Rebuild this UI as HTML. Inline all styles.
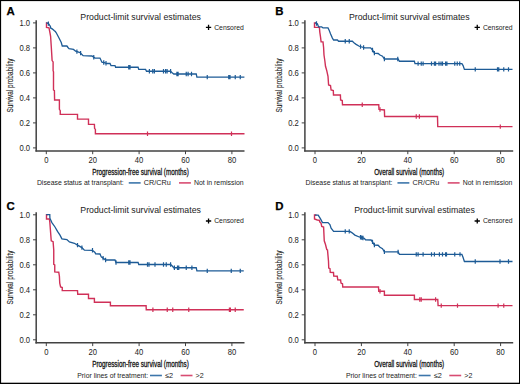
<!DOCTYPE html><html><head><meta charset="utf-8"><style>html,body{margin:0;padding:0;background:#fff;}svg{display:block;}</style></head><body>
<svg width="520" height="384" viewBox="0 0 520 384" font-family='"Liberation Sans", sans-serif'>
<rect x="0" y="0" width="520" height="384" fill="#fff"/>
<g transform="translate(0,0)">
<text x="6.5" y="14.5" font-size="11.4" font-weight="bold" fill="#000" stroke="#000" stroke-width="0.25">A</text>
<text x="140.6" y="20.05" font-size="8.75" text-anchor="middle" fill="#222">Product-limit survival estimates</text>
<g transform="translate(0,0)"><path d="M205.9 27.4H211.2M208.55 24.8V30" stroke="#000" stroke-width="1.3"/>
<text x="214.2" y="29.7" font-size="7.4" textLength="29.6" lengthAdjust="spacingAndGlyphs" fill="#222">Censored</text></g>
<path d="M36.2 20.3V151.6" stroke="#424242" stroke-width="1.5" fill="none"/>
<path d="M33 147.90H36.2M33 122.90H36.2M33 97.90H36.2M33 72.90H36.2M33 47.90H36.2M33 22.90H36.2" stroke="#424242" stroke-width="1" fill="none"/>
<text x="30.1" y="150.80" font-size="8.3" text-anchor="end" textLength="10.61" lengthAdjust="spacingAndGlyphs" fill="#222">0.0</text>
<text x="30.1" y="125.80" font-size="8.3" text-anchor="end" textLength="10.61" lengthAdjust="spacingAndGlyphs" fill="#222">0.2</text>
<text x="30.1" y="100.80" font-size="8.3" text-anchor="end" textLength="10.61" lengthAdjust="spacingAndGlyphs" fill="#222">0.4</text>
<text x="30.1" y="75.80" font-size="8.3" text-anchor="end" textLength="10.61" lengthAdjust="spacingAndGlyphs" fill="#222">0.6</text>
<text x="30.1" y="50.80" font-size="8.3" text-anchor="end" textLength="10.61" lengthAdjust="spacingAndGlyphs" fill="#222">0.8</text>
<text x="30.1" y="25.80" font-size="8.3" text-anchor="end" textLength="10.61" lengthAdjust="spacingAndGlyphs" fill="#222">1.0</text>
<text transform="translate(13.3,85.6) rotate(-90)" x="0" y="0" font-size="9.3" text-anchor="middle" textLength="54" stroke="#222" stroke-width="0.12" lengthAdjust="spacingAndGlyphs" fill="#222">Survival probability</text>
<path d="M35.45 150.9H244.5" stroke="#424242" stroke-width="1.5" fill="none"/>
<path d="M46.30 150.9V154.2M92.70 150.9V154.2M139.10 150.9V154.2M185.50 150.9V154.2M231.90 150.9V154.2" stroke="#424242" stroke-width="1" fill="none"/>
<text x="46.30" y="162.85" font-size="8.3" text-anchor="middle" textLength="4.25" lengthAdjust="spacingAndGlyphs" fill="#222">0</text>
<text x="92.70" y="162.85" font-size="8.3" text-anchor="middle" textLength="8.49" lengthAdjust="spacingAndGlyphs" fill="#222">20</text>
<text x="139.10" y="162.85" font-size="8.3" text-anchor="middle" textLength="8.49" lengthAdjust="spacingAndGlyphs" fill="#222">40</text>
<text x="185.50" y="162.85" font-size="8.3" text-anchor="middle" textLength="8.49" lengthAdjust="spacingAndGlyphs" fill="#222">60</text>
<text x="231.90" y="162.85" font-size="8.3" text-anchor="middle" textLength="8.49" lengthAdjust="spacingAndGlyphs" fill="#222">80</text>
<text x="140.5" y="174.9" font-size="9" text-anchor="middle" textLength="96.5" lengthAdjust="spacingAndGlyphs" fill="#111" stroke="#111" stroke-width="0.3">Progression-free survival (months)</text>
<g transform="translate(0,0)">
<text x="36.9" y="185.1" font-size="7.4" textLength="86.9" lengthAdjust="spacingAndGlyphs" fill="#222">Disease status at transplant:</text>
<path d="M128.75 182.9h11.9" stroke="#3d76ab" stroke-width="1.6"/>
<text x="143.75" y="185.1" font-size="7.4" textLength="26.9" lengthAdjust="spacingAndGlyphs" fill="#222">CR/CRu</text>
<path d="M179 182.9h11.9" stroke="#d84c72" stroke-width="1.6"/>
<text x="194" y="185.1" font-size="7.4" textLength="49.7" lengthAdjust="spacingAndGlyphs" fill="#222">Not in remission</text></g>
<path d="M47.60 22.90 L46.50 22.90 L46.50 27.50 L49.00 27.80 L50.00 33.00 L50.60 36.25 L51.25 46.25 L51.90 56.90 L52.10 60.60 L53.10 61.90 L53.10 70.60 L53.50 71.90 L53.50 90.00 L54.40 90.60 L54.60 100.00 L59.40 100.00 L59.40 109.40 L60.25 110.60 L60.25 114.40 L77.50 114.40 L77.50 119.10 L88.50 119.10 L88.50 124.40 L94.40 124.40 L94.60 128.50 L95.40 129.40 L95.40 133.75 L244.50 133.75" stroke="#d03058" stroke-width="1.4" fill="none" stroke-linejoin="miter"/>
<path d="M147.50 131.55v4.4M231.50 131.55v4.4" stroke="#d03058" stroke-width="1.2" fill="none"/>
<path d="M46.30 22.90 L47.50 23.10 L48.80 23.90 L49.60 25.20 L50.40 26.40 L50.80 28.20 L52.20 28.90 L53.30 29.70 L54.10 30.50 L55.30 31.50 L56.10 32.50 L58.75 37.50 L61.25 42.50 L62.25 46.00 L66.90 46.00 L68.00 47.50 L69.00 48.75 L73.50 49.40 L75.60 51.25 L80.00 52.50 L83.10 55.60 L91.90 56.00 L95.00 58.10 L100.00 58.10 L101.90 62.25 L103.75 62.50 L106.90 63.50 L110.00 63.50 L111.00 65.60 L115.00 65.60 L115.60 67.25 L138.10 67.25 L138.75 69.40 L145.60 69.40 L146.50 71.25 L170.60 71.25 L172.50 73.10 L173.75 74.00 L196.25 74.00 L196.90 77.10 L244.40 77.10" stroke="#1d5b96" stroke-width="1.3" fill="none" stroke-linejoin="miter"/>
<path d="M48.40 21.45v4.4M76.90 49.42v4.4M80.60 50.90v4.4M93.75 55.05v4.4M103.75 60.30v4.4M106.00 61.01v4.4M128.75 65.05v4.4M130.00 65.05v4.4M149.40 69.05v4.4M152.75 69.05v4.4M154.40 69.05v4.4M163.50 69.05v4.4M165.60 69.05v4.4M167.10 69.05v4.4M170.60 69.05v4.4M176.90 71.80v4.4M178.10 71.80v4.4M186.25 71.80v4.4M188.10 71.80v4.4M191.50 71.80v4.4M207.25 74.90v4.4M228.75 74.90v4.4M230.00 74.90v4.4M235.25 74.90v4.4M240.25 74.90v4.4" stroke="#1d5b96" stroke-width="1.2" fill="none"/>
</g>
<g transform="translate(268.7,0)">
<text x="6.5" y="14.5" font-size="11.4" font-weight="bold" fill="#000" stroke="#000" stroke-width="0.25">B</text>
<text x="140.6" y="20.05" font-size="8.75" text-anchor="middle" fill="#222">Product-limit survival estimates</text>
<g transform="translate(0,0)"><path d="M205.9 27.4H211.2M208.55 24.8V30" stroke="#000" stroke-width="1.3"/>
<text x="214.2" y="29.7" font-size="7.4" textLength="29.6" lengthAdjust="spacingAndGlyphs" fill="#222">Censored</text></g>
<path d="M36.2 20.3V151.6" stroke="#424242" stroke-width="1.5" fill="none"/>
<path d="M33 147.90H36.2M33 122.90H36.2M33 97.90H36.2M33 72.90H36.2M33 47.90H36.2M33 22.90H36.2" stroke="#424242" stroke-width="1" fill="none"/>
<text x="30.1" y="150.80" font-size="8.3" text-anchor="end" textLength="10.61" lengthAdjust="spacingAndGlyphs" fill="#222">0.0</text>
<text x="30.1" y="125.80" font-size="8.3" text-anchor="end" textLength="10.61" lengthAdjust="spacingAndGlyphs" fill="#222">0.2</text>
<text x="30.1" y="100.80" font-size="8.3" text-anchor="end" textLength="10.61" lengthAdjust="spacingAndGlyphs" fill="#222">0.4</text>
<text x="30.1" y="75.80" font-size="8.3" text-anchor="end" textLength="10.61" lengthAdjust="spacingAndGlyphs" fill="#222">0.6</text>
<text x="30.1" y="50.80" font-size="8.3" text-anchor="end" textLength="10.61" lengthAdjust="spacingAndGlyphs" fill="#222">0.8</text>
<text x="30.1" y="25.80" font-size="8.3" text-anchor="end" textLength="10.61" lengthAdjust="spacingAndGlyphs" fill="#222">1.0</text>
<text transform="translate(13.3,85.6) rotate(-90)" x="0" y="0" font-size="9.3" text-anchor="middle" textLength="54" stroke="#222" stroke-width="0.12" lengthAdjust="spacingAndGlyphs" fill="#222">Survival probability</text>
<path d="M35.45 150.9H244.5" stroke="#424242" stroke-width="1.5" fill="none"/>
<path d="M46.30 150.9V154.2M92.70 150.9V154.2M139.10 150.9V154.2M185.50 150.9V154.2M231.90 150.9V154.2" stroke="#424242" stroke-width="1" fill="none"/>
<text x="46.30" y="162.85" font-size="8.3" text-anchor="middle" textLength="4.25" lengthAdjust="spacingAndGlyphs" fill="#222">0</text>
<text x="92.70" y="162.85" font-size="8.3" text-anchor="middle" textLength="8.49" lengthAdjust="spacingAndGlyphs" fill="#222">20</text>
<text x="139.10" y="162.85" font-size="8.3" text-anchor="middle" textLength="8.49" lengthAdjust="spacingAndGlyphs" fill="#222">40</text>
<text x="185.50" y="162.85" font-size="8.3" text-anchor="middle" textLength="8.49" lengthAdjust="spacingAndGlyphs" fill="#222">60</text>
<text x="231.90" y="162.85" font-size="8.3" text-anchor="middle" textLength="8.49" lengthAdjust="spacingAndGlyphs" fill="#222">80</text>
<text x="140.5" y="174.9" font-size="9" text-anchor="middle" textLength="70" lengthAdjust="spacingAndGlyphs" fill="#111" stroke="#111" stroke-width="0.3">Overall survival (months)</text>
<g transform="translate(0,0)">
<text x="36.9" y="185.1" font-size="7.4" textLength="86.9" lengthAdjust="spacingAndGlyphs" fill="#222">Disease status at transplant:</text>
<path d="M128.75 182.9h11.9" stroke="#3d76ab" stroke-width="1.6"/>
<text x="143.75" y="185.1" font-size="7.4" textLength="26.9" lengthAdjust="spacingAndGlyphs" fill="#222">CR/CRu</text>
<path d="M179 182.9h11.9" stroke="#d84c72" stroke-width="1.6"/>
<text x="194" y="185.1" font-size="7.4" textLength="49.7" lengthAdjust="spacingAndGlyphs" fill="#222">Not in remission</text></g>
<path d="M47.30 22.90 L45.80 22.90 L45.80 27.40 L50.70 27.40 L51.10 32.10 L51.80 36.90 L52.40 41.90 L54.30 41.90 L54.90 47.50 L55.30 55.00 L56.20 61.25 L56.80 66.25 L58.05 70.60 L59.30 76.25 L59.90 85.00 L61.80 85.60 L62.40 90.00 L64.60 90.60 L64.80 95.00 L71.70 95.00 L71.90 100.00 L73.55 100.60 L73.80 104.75 L110.05 104.75 L110.30 109.40 L115.70 110.00 L115.90 116.50 L168.80 116.50 L169.05 126.60 L243.80 126.60" stroke="#d03058" stroke-width="1.4" fill="none" stroke-linejoin="miter"/>
<path d="M93.55 102.55v4.4M111.30 107.31v4.4M147.55 114.30v4.4M150.70 114.30v4.4M231.60 124.40v4.4" stroke="#d03058" stroke-width="1.2" fill="none"/>
<path d="M46.20 22.90 L48.70 23.75 L49.90 26.90 L53.05 26.90 L54.30 27.90 L59.30 27.90 L60.55 30.60 L61.80 33.75 L63.70 38.10 L64.90 40.00 L68.70 40.00 L69.90 41.25 L83.70 41.25 L85.55 43.10 L87.40 44.40 L90.55 46.25 L96.20 47.90 L101.90 47.90 L103.80 50.00 L105.70 53.10 L109.40 53.50 L111.30 55.00 L113.80 56.25 L115.70 59.00 L129.40 59.00 L130.70 61.25 L145.70 61.25 L146.30 63.60 L193.20 63.60 L194.40 65.60 L195.70 69.40 L243.80 69.40" stroke="#1d5b96" stroke-width="1.3" fill="none" stroke-linejoin="miter"/>
<path d="M47.80 21.24v4.4M76.55 39.05v4.4M80.55 39.05v4.4M91.80 44.42v4.4M94.90 45.32v4.4M103.80 47.80v4.4M105.70 50.90v4.4M115.70 56.80v4.4M129.05 56.80v4.4M149.40 61.40v4.4M152.55 61.40v4.4M154.40 61.40v4.4M162.80 61.40v4.4M165.70 61.40v4.4M166.90 61.40v4.4M170.30 61.40v4.4M172.30 61.40v4.4M173.80 61.40v4.4M176.90 61.40v4.4M178.20 61.40v4.4M186.05 61.40v4.4M188.55 61.40v4.4M191.05 61.40v4.4M206.55 67.20v4.4M228.80 67.20v4.4M230.05 67.20v4.4M235.05 67.20v4.4M239.80 67.20v4.4" stroke="#1d5b96" stroke-width="1.2" fill="none"/>
</g>
<g transform="translate(0,191.9)">
<text x="6.5" y="18.5" font-size="11.4" font-weight="bold" fill="#000" stroke="#000" stroke-width="0.25">C</text>
<text x="140.6" y="20.95" font-size="8.75" text-anchor="middle" fill="#222">Product-limit survival estimates</text>
<g transform="translate(0,1.7)"><path d="M205.9 27.4H211.2M208.55 24.8V30" stroke="#000" stroke-width="1.3"/>
<text x="214.2" y="29.7" font-size="7.4" textLength="29.6" lengthAdjust="spacingAndGlyphs" fill="#222">Censored</text></g>
<path d="M36.2 20.3V151.6" stroke="#424242" stroke-width="1.5" fill="none"/>
<path d="M33 147.90H36.2M33 122.90H36.2M33 97.90H36.2M33 72.90H36.2M33 47.90H36.2M33 22.90H36.2" stroke="#424242" stroke-width="1" fill="none"/>
<text x="30.1" y="150.80" font-size="8.3" text-anchor="end" textLength="10.61" lengthAdjust="spacingAndGlyphs" fill="#222">0.0</text>
<text x="30.1" y="125.80" font-size="8.3" text-anchor="end" textLength="10.61" lengthAdjust="spacingAndGlyphs" fill="#222">0.2</text>
<text x="30.1" y="100.80" font-size="8.3" text-anchor="end" textLength="10.61" lengthAdjust="spacingAndGlyphs" fill="#222">0.4</text>
<text x="30.1" y="75.80" font-size="8.3" text-anchor="end" textLength="10.61" lengthAdjust="spacingAndGlyphs" fill="#222">0.6</text>
<text x="30.1" y="50.80" font-size="8.3" text-anchor="end" textLength="10.61" lengthAdjust="spacingAndGlyphs" fill="#222">0.8</text>
<text x="30.1" y="25.80" font-size="8.3" text-anchor="end" textLength="10.61" lengthAdjust="spacingAndGlyphs" fill="#222">1.0</text>
<text transform="translate(13.3,85.6) rotate(-90)" x="0" y="0" font-size="9.3" text-anchor="middle" textLength="54" stroke="#222" stroke-width="0.12" lengthAdjust="spacingAndGlyphs" fill="#222">Survival probability</text>
<path d="M35.45 150.9H244.5" stroke="#424242" stroke-width="1.5" fill="none"/>
<path d="M46.30 150.9V154.2M92.70 150.9V154.2M139.10 150.9V154.2M185.50 150.9V154.2M231.90 150.9V154.2" stroke="#424242" stroke-width="1" fill="none"/>
<text x="46.30" y="162.85" font-size="8.3" text-anchor="middle" textLength="4.25" lengthAdjust="spacingAndGlyphs" fill="#222">0</text>
<text x="92.70" y="162.85" font-size="8.3" text-anchor="middle" textLength="8.49" lengthAdjust="spacingAndGlyphs" fill="#222">20</text>
<text x="139.10" y="162.85" font-size="8.3" text-anchor="middle" textLength="8.49" lengthAdjust="spacingAndGlyphs" fill="#222">40</text>
<text x="185.50" y="162.85" font-size="8.3" text-anchor="middle" textLength="8.49" lengthAdjust="spacingAndGlyphs" fill="#222">60</text>
<text x="231.90" y="162.85" font-size="8.3" text-anchor="middle" textLength="8.49" lengthAdjust="spacingAndGlyphs" fill="#222">80</text>
<text x="140.5" y="174.9" font-size="9" text-anchor="middle" textLength="96.5" lengthAdjust="spacingAndGlyphs" fill="#111" stroke="#111" stroke-width="0.3">Progression-free survival (months)</text>
<g transform="translate(0,0.7)">
<text x="77.25" y="185.1" font-size="7.4" textLength="70.9" lengthAdjust="spacingAndGlyphs" fill="#222">Prior lines of treatment:</text>
<path d="M150 182.9h11.9" stroke="#3d76ab" stroke-width="1.6"/>
<text x="165" y="185.1" font-size="7.4" textLength="8.1" lengthAdjust="spacingAndGlyphs" fill="#222">≤2</text>
<path d="M180.6 182.9h11.9" stroke="#d84c72" stroke-width="1.6"/>
<text x="195.6" y="185.1" font-size="7.4" textLength="8.1" lengthAdjust="spacingAndGlyphs" fill="#222">&gt;2</text></g>
<path d="M48.00 22.70 L46.50 22.70 L46.50 27.10 L49.40 27.10 L49.80 30.10 L51.25 48.85 L53.10 49.85 L53.75 58.10 L53.75 72.50 L54.75 73.10 L54.75 80.00 L58.75 80.35 L59.40 84.35 L59.75 91.20 L60.60 95.00 L62.25 95.60 L62.25 98.70 L77.50 98.70 L77.75 102.30 L88.50 102.30 L88.50 106.60 L94.40 106.60 L94.40 110.35 L110.40 110.35 L110.40 113.90 L146.10 113.90 L146.25 117.85 L243.75 117.85" stroke="#d03058" stroke-width="1.4" fill="none" stroke-linejoin="miter"/>
<path d="M152.90 115.65v4.4M167.25 115.65v4.4M172.75 115.65v4.4M188.75 115.65v4.4M229.40 115.65v4.4M230.40 115.65v4.4M235.25 115.65v4.4" stroke="#d03058" stroke-width="1.2" fill="none"/>
<path d="M46.30 22.70 L49.80 22.70 L49.90 26.30 L51.90 30.70 L55.00 35.10 L57.50 39.50 L60.00 43.20 L61.90 47.00 L66.90 47.60 L69.40 50.10 L74.40 51.35 L77.50 53.20 L81.90 55.70 L84.40 58.20 L92.50 58.40 L95.00 60.60 L95.60 61.85 L100.00 62.10 L101.25 65.00 L103.10 66.20 L105.60 68.10 L115.00 68.10 L116.00 70.60 L138.10 70.60 L138.75 72.60 L170.60 72.60 L172.50 74.35 L173.75 75.85 L196.25 75.85 L196.90 79.00 L243.75 79.00" stroke="#1d5b96" stroke-width="1.3" fill="none" stroke-linejoin="miter"/>
<path d="M77.50 51.00v4.4M81.90 53.50v4.4M92.50 56.20v4.4M103.10 64.00v4.4M105.60 65.90v4.4M116.00 68.40v4.4M128.75 68.40v4.4M130.00 68.40v4.4M147.50 70.40v4.4M149.00 70.40v4.4M155.00 70.40v4.4M163.50 70.40v4.4M166.25 70.40v4.4M170.60 70.40v4.4M174.40 73.65v4.4M177.50 73.65v4.4M178.75 73.65v4.4M186.25 73.65v4.4M191.90 73.65v4.4M207.25 76.80v4.4M231.25 76.80v4.4M240.25 76.80v4.4" stroke="#1d5b96" stroke-width="1.2" fill="none"/>
</g>
<g transform="translate(268.7,191.9)">
<text x="6.5" y="18.5" font-size="11.4" font-weight="bold" fill="#000" stroke="#000" stroke-width="0.25">D</text>
<text x="145.79999999999998" y="20.95" font-size="8.75" text-anchor="middle" fill="#222">Product-limit survival estimates</text>
<g transform="translate(0,1.7)"><path d="M205.9 27.4H211.2M208.55 24.8V30" stroke="#000" stroke-width="1.3"/>
<text x="214.2" y="29.7" font-size="7.4" textLength="29.6" lengthAdjust="spacingAndGlyphs" fill="#222">Censored</text></g>
<path d="M36.2 20.3V151.6" stroke="#424242" stroke-width="1.5" fill="none"/>
<path d="M33 147.90H36.2M33 122.90H36.2M33 97.90H36.2M33 72.90H36.2M33 47.90H36.2M33 22.90H36.2" stroke="#424242" stroke-width="1" fill="none"/>
<text x="30.1" y="150.80" font-size="8.3" text-anchor="end" textLength="10.61" lengthAdjust="spacingAndGlyphs" fill="#222">0.0</text>
<text x="30.1" y="125.80" font-size="8.3" text-anchor="end" textLength="10.61" lengthAdjust="spacingAndGlyphs" fill="#222">0.2</text>
<text x="30.1" y="100.80" font-size="8.3" text-anchor="end" textLength="10.61" lengthAdjust="spacingAndGlyphs" fill="#222">0.4</text>
<text x="30.1" y="75.80" font-size="8.3" text-anchor="end" textLength="10.61" lengthAdjust="spacingAndGlyphs" fill="#222">0.6</text>
<text x="30.1" y="50.80" font-size="8.3" text-anchor="end" textLength="10.61" lengthAdjust="spacingAndGlyphs" fill="#222">0.8</text>
<text x="30.1" y="25.80" font-size="8.3" text-anchor="end" textLength="10.61" lengthAdjust="spacingAndGlyphs" fill="#222">1.0</text>
<text transform="translate(13.3,85.6) rotate(-90)" x="0" y="0" font-size="9.3" text-anchor="middle" textLength="54" stroke="#222" stroke-width="0.12" lengthAdjust="spacingAndGlyphs" fill="#222">Survival probability</text>
<path d="M35.45 150.9H244.5" stroke="#424242" stroke-width="1.5" fill="none"/>
<path d="M46.30 150.9V154.2M92.70 150.9V154.2M139.10 150.9V154.2M185.50 150.9V154.2M231.90 150.9V154.2" stroke="#424242" stroke-width="1" fill="none"/>
<text x="46.30" y="162.85" font-size="8.3" text-anchor="middle" textLength="4.25" lengthAdjust="spacingAndGlyphs" fill="#222">0</text>
<text x="92.70" y="162.85" font-size="8.3" text-anchor="middle" textLength="8.49" lengthAdjust="spacingAndGlyphs" fill="#222">20</text>
<text x="139.10" y="162.85" font-size="8.3" text-anchor="middle" textLength="8.49" lengthAdjust="spacingAndGlyphs" fill="#222">40</text>
<text x="185.50" y="162.85" font-size="8.3" text-anchor="middle" textLength="8.49" lengthAdjust="spacingAndGlyphs" fill="#222">60</text>
<text x="231.90" y="162.85" font-size="8.3" text-anchor="middle" textLength="8.49" lengthAdjust="spacingAndGlyphs" fill="#222">80</text>
<text x="140.5" y="174.9" font-size="9" text-anchor="middle" textLength="70" lengthAdjust="spacingAndGlyphs" fill="#111" stroke="#111" stroke-width="0.3">Overall survival (months)</text>
<g transform="translate(0,0.7)">
<text x="77.25" y="185.1" font-size="7.4" textLength="70.9" lengthAdjust="spacingAndGlyphs" fill="#222">Prior lines of treatment:</text>
<path d="M150 182.9h11.9" stroke="#3d76ab" stroke-width="1.6"/>
<text x="165" y="185.1" font-size="7.4" textLength="8.1" lengthAdjust="spacingAndGlyphs" fill="#222">≤2</text>
<path d="M180.6 182.9h11.9" stroke="#d84c72" stroke-width="1.6"/>
<text x="195.6" y="185.1" font-size="7.4" textLength="8.1" lengthAdjust="spacingAndGlyphs" fill="#222">&gt;2</text></g>
<path d="M47.80 23.10 L45.80 23.10 L45.80 27.10 L48.60 28.10 L50.55 28.30 L51.20 30.10 L52.40 31.35 L53.05 34.50 L54.90 35.10 L55.55 48.85 L56.80 52.60 L58.05 57.60 L58.80 58.10 L59.80 69.35 L60.05 76.20 L61.30 76.85 L61.55 80.35 L64.80 80.60 L65.05 84.10 L68.55 84.35 L69.05 87.85 L71.90 88.10 L72.30 91.20 L73.80 91.85 L74.05 95.10 L109.80 95.10 L110.05 99.35 L115.70 99.35 L115.70 103.35 L145.70 103.35 L145.70 107.60 L169.05 107.60 L169.40 113.70 L243.80 113.70" stroke="#d03058" stroke-width="1.4" fill="none" stroke-linejoin="miter"/>
<path d="M111.30 97.15v4.4M151.05 105.40v4.4M152.55 105.40v4.4M166.90 105.40v4.4M172.55 111.50v4.4M188.80 111.50v4.4M229.40 111.50v4.4M235.05 111.50v4.4" stroke="#d03058" stroke-width="1.2" fill="none"/>
<path d="M46.20 23.20 L49.50 23.20 L51.80 27.00 L53.80 30.70 L59.30 30.70 L61.20 32.60 L62.40 36.35 L64.90 39.50 L81.20 39.50 L83.05 40.70 L86.20 43.20 L90.55 45.10 L95.55 46.35 L96.80 47.85 L102.40 48.10 L103.80 50.00 L105.70 53.10 L109.40 53.35 L111.30 55.35 L113.80 56.85 L115.70 60.00 L129.40 60.00 L130.70 62.50 L193.20 62.50 L194.40 65.60 L195.70 69.60 L243.80 69.60" stroke="#1d5b96" stroke-width="1.3" fill="none" stroke-linejoin="miter"/>
<path d="M76.55 37.30v4.4M80.55 37.30v4.4M91.80 43.21v4.4M93.05 43.52v4.4M94.30 43.84v4.4M103.80 47.80v4.4M105.70 50.90v4.4M115.70 57.80v4.4M129.40 57.80v4.4M147.55 60.30v4.4M149.40 60.30v4.4M154.40 60.30v4.4M162.80 60.30v4.4M165.70 60.30v4.4M170.70 60.30v4.4M173.80 60.30v4.4M176.90 60.30v4.4M177.80 60.30v4.4M186.05 60.30v4.4M191.30 60.30v4.4M206.55 67.40v4.4M231.30 67.40v4.4M239.80 67.40v4.4" stroke="#1d5b96" stroke-width="1.2" fill="none"/>
</g>
<rect x="0" y="0" width="520" height="1.1" fill="#000"/><rect x="0" y="0" width="1.1" height="384" fill="#000"/><rect x="519" y="0" width="1" height="384" fill="#000"/><rect x="0" y="382.7" width="520" height="1.3" fill="#000"/>
</svg></body></html>
